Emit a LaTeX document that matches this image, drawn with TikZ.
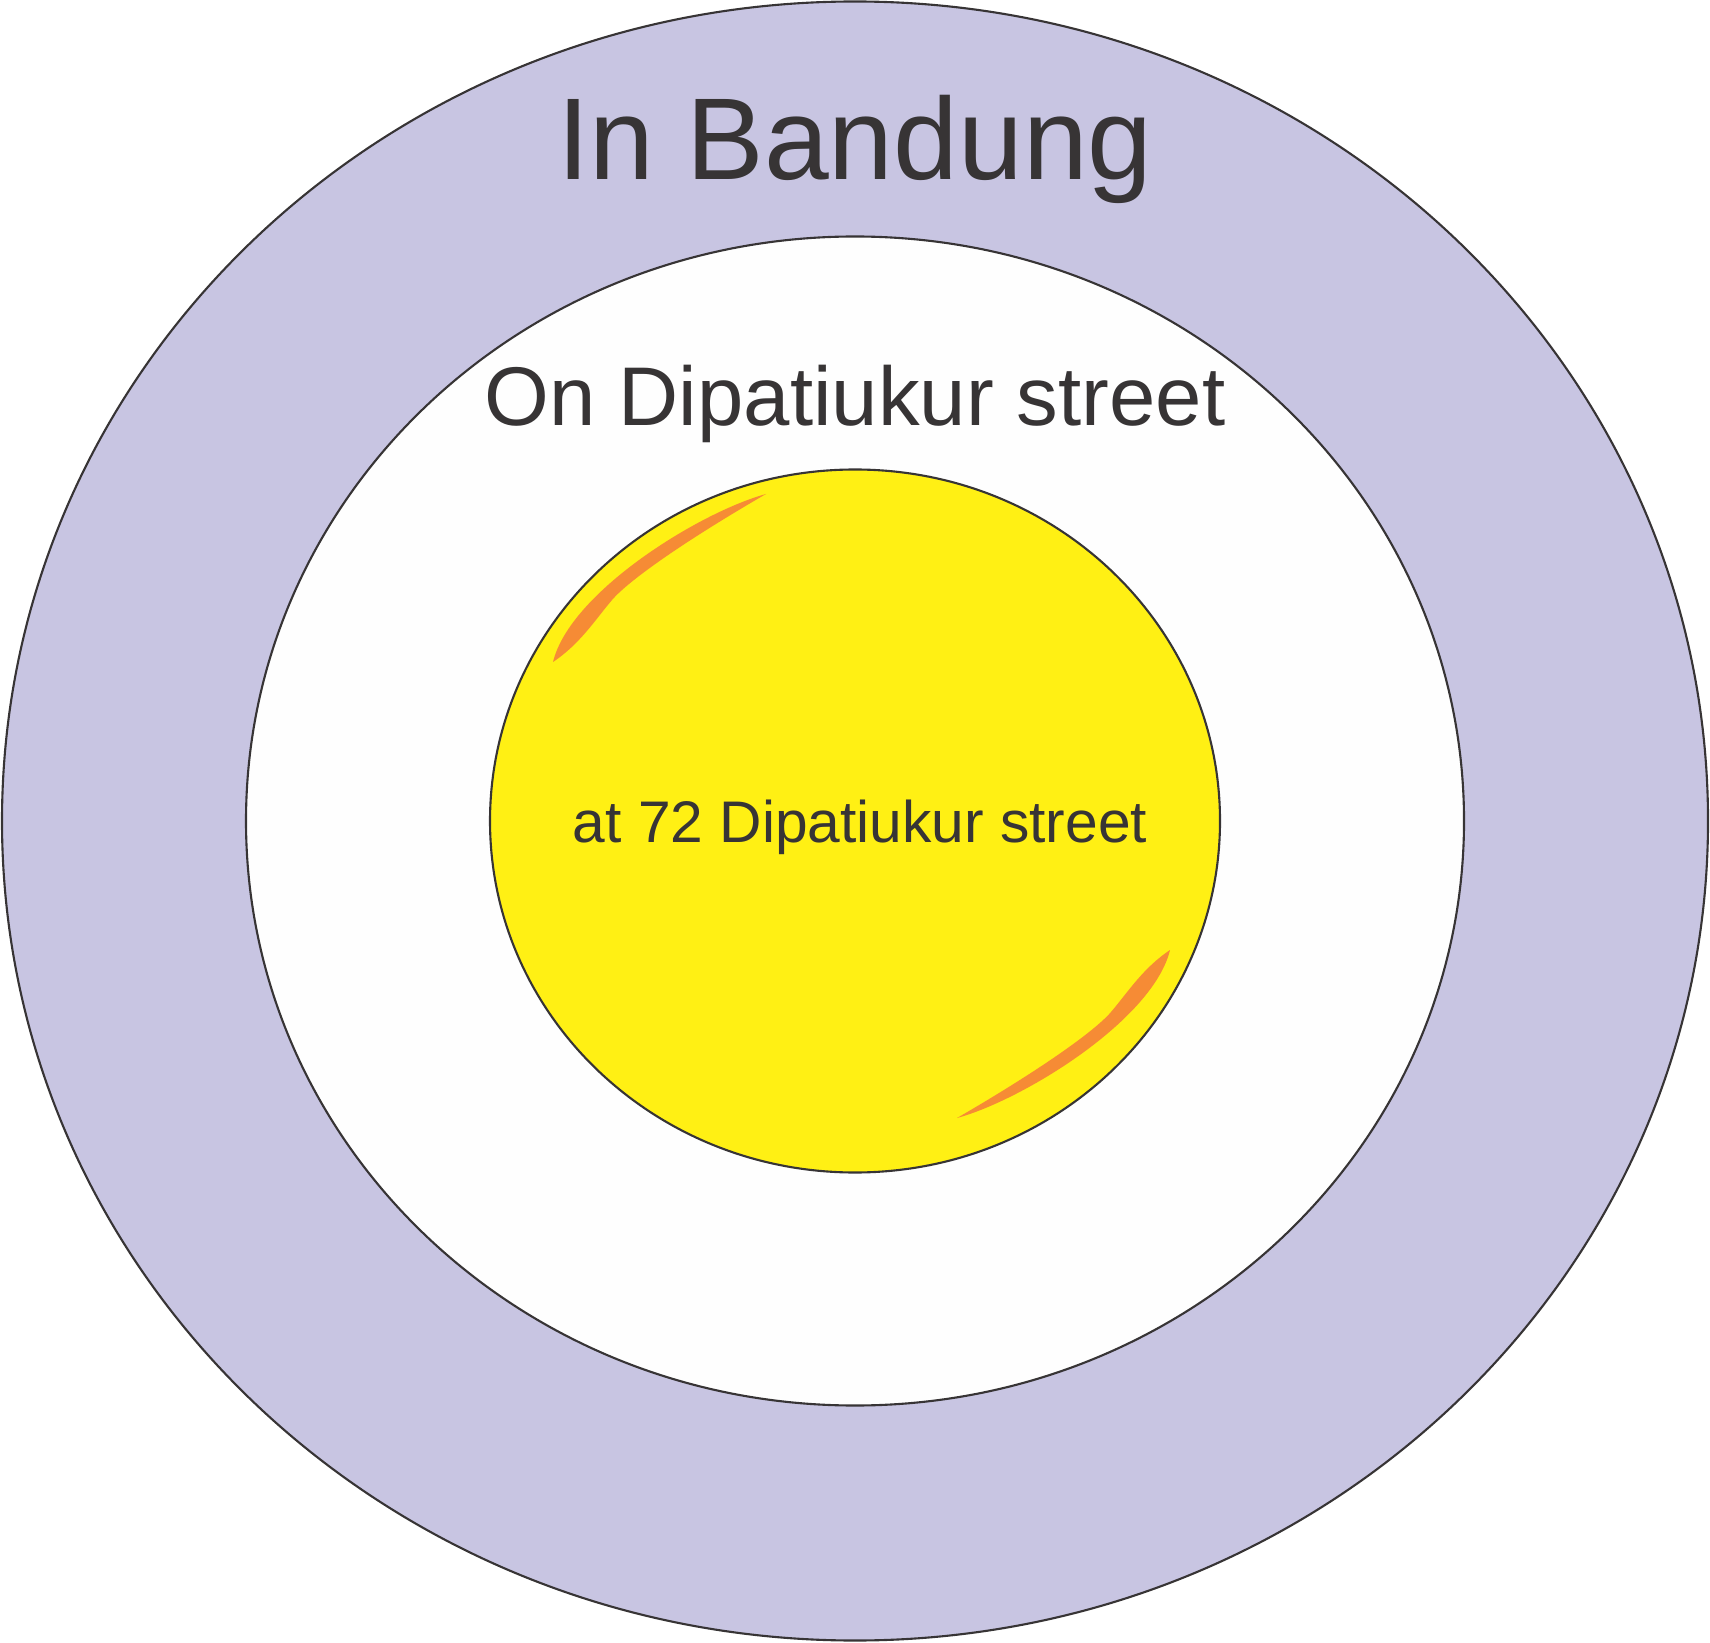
\documentclass[tikz,border=0pt]{standalone}
\usepackage{fontspec}
\setmainfont{Liberation Sans}
\usepackage{tikz}
\usetikzlibrary{shapes.geometric}
\definecolor{lavender}{HTML}{C8C5E2}
\definecolor{offwhite}{HTML}{FEFEFE}
\definecolor{sunny}{HTML}{FFF014}
\definecolor{tangerine}{HTML}{F68B35}
\definecolor{charcoal}{HTML}{373435}

\begin{document}
\begin{tikzpicture}[line width=0.6pt]
\useasboundingbox (0,0) rectangle (17.10,16.42);

\tikzstyle{every node}=[ellipse, draw=charcoal, inner sep=0pt]
\draw    (8.55, 8.21) node[fill=lavender, minimum width=17.06cm, minimum height=16.39cm] (city) {}
         (8.55, 8.21) node[fill=offwhite, minimum width=12.18cm, minimum height=11.69cm] (street) {}
         (8.55, 8.21) node[fill=sunny, minimum width=7.30cm, minimum height=7.03cm] (house) {};

% orange highlights
\fill[tangerine] (7.66,11.48) .. controls (7.0,11.3) and (5.7,10.5) .. (5.53,9.80)
   .. controls (5.80,9.98) and (5.95,10.22) .. (6.12,10.42)
   .. controls (6.3,10.63) and (6.9,11.04) .. (7.66,11.48) -- cycle;
\fill[tangerine, rotate around={180:(8.615,8.36)}] (7.66,11.48) .. controls (7.0,11.3) and (5.7,10.5) .. (5.53,9.80)
   .. controls (5.80,9.98) and (5.95,10.22) .. (6.12,10.42)
   .. controls (6.3,10.63) and (6.9,11.04) .. (7.66,11.48) -- cycle;

\tikzstyle{every node}=[text=charcoal, inner sep=0pt, anchor=base]
\draw    (8.55, 14.62) node[font=\fontsize{33.1}{40}\selectfont] (bandung) {In Bandung}
         (8.55, 12.16) node[font=\fontsize{23.7}{28}\selectfont] (dipatiukur) {On Dipatiukur street}
         (8.60, 8.00)  node[font=\fontsize{16.7}{19}\selectfont] (number) {at 72 Dipatiukur street};

\end{tikzpicture}
\end{document}
